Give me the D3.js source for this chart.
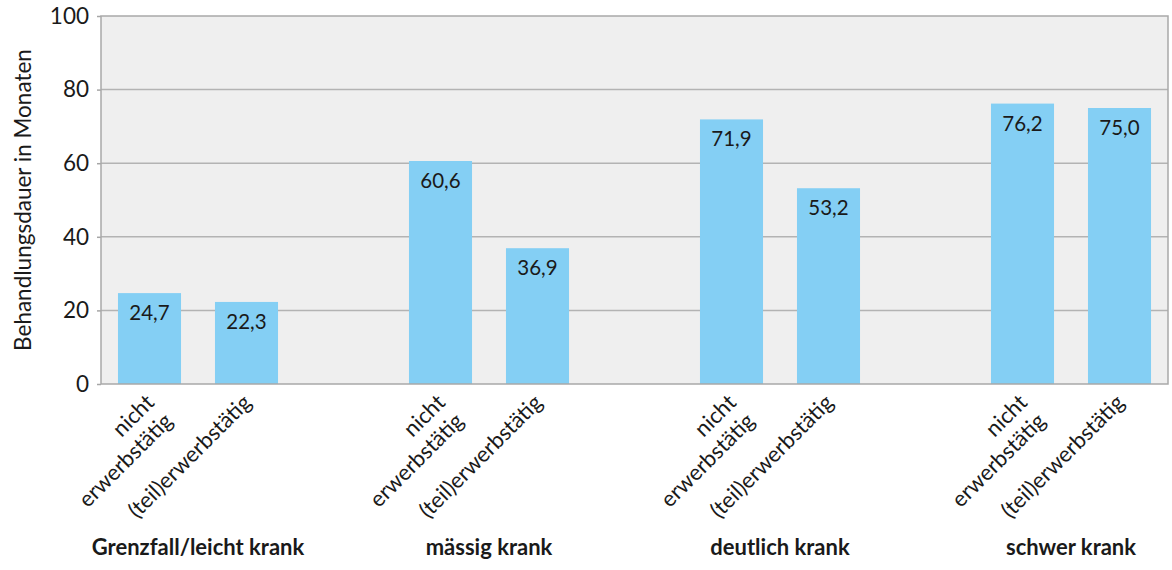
<!DOCTYPE html>
<html><head><meta charset="utf-8">
<script src="https://cdn.jsdelivr.net/npm/d3@7"></script>
<style>
html,body{margin:0;padding:0;background:#fff;}
svg text{font-family:Lato,"Noto Sans",sans-serif;fill:#1a1a1a;}
</style></head>
<body><svg id="c" width="1172" height="570"></svg>
<script>
const groups = ["Grenzfall/leicht krank", "mässig krank", "deutlich krank", "schwer krank"];
const seriesNames = ["nicht erwerbstätig", "(teil)erwerbstätig"];
const seriesLabelLines = [["nicht", "erwerbstätig"], ["(teil)erwerbstätig"]];
const nichtErwerbstaetig = [24.7, 60.6, 71.9, 76.2];
const teilErwerbstaetig = [22.3, 36.9, 53.2, 75.0];
const yTicks = [0, 20, 40, 60, 80, 100];
const yTitle = "Behandlungsdauer in Monaten";

const values = [nichtErwerbstaetig, teilErwerbstaetig];
const data = [];
groups.forEach((g, gi) => seriesNames.forEach((s, si) => data.push({g, s, si, v: values[si][gi]})));

const svg = d3.select("#c");
const L = 101, R = 1168, T = 16, B = 384;

const x0 = d3.scaleBand().domain(groups).range([L, R]).paddingInner(1/3).paddingOuter(0);
const x1 = d3.scaleBand().domain(seriesNames).range([0, x0.bandwidth()]).paddingInner(0.35).paddingOuter(0.175);
const y = d3.scaleLinear().domain([0, 100]).range([B, T]);

// plot background
svg.append("rect").attr("x", L).attr("y", T).attr("width", R - L).attr("height", B - T)
  .attr("fill", "#efefef");

// gridlines
svg.append("g").selectAll("line").data(yTicks.filter(t => t > 0 && t < 100)).join("line")
  .attr("x1", L).attr("x2", R).attr("y1", d => y(d)).attr("y2", d => y(d))
  .attr("stroke", "#b3b3b3").attr("stroke-width", 1.5);

// y axis
const yAxis = svg.append("g").attr("transform", `translate(${L},0)`)
  .call(d3.axisLeft(y).tickValues(yTicks).tickSize(4).tickPadding(8).tickFormat(d3.format("d")));
yAxis.select(".domain").remove();
yAxis.selectAll(".tick line").attr("stroke", "#a6a6a6").attr("stroke-width", 1.5);
yAxis.selectAll(".tick text").attr("font-size", 22.5).attr("fill", "#1a1a1a")
  .style("font-family", "Lato, sans-serif");

// bars
svg.append("g").selectAll("rect").data(data).join("rect")
  .attr("x", d => x0(d.g) + x1(d.s)).attr("width", x1.bandwidth())
  .attr("y", d => y(d.v)).attr("height", d => y(0) - y(d.v))
  .attr("fill", "#84cff4");

// value labels
const fmt = v => v.toFixed(1).replace(".", ",");
svg.append("g").selectAll("text").data(data).join("text")
  .attr("x", d => x0(d.g) + x1(d.s) + x1.bandwidth() / 2)
  .attr("y", d => y(d.v) + 27)
  .attr("text-anchor", "middle").attr("font-size", 20.5)
  .text(d => fmt(d.v));

// plot border
svg.append("rect").attr("x", L).attr("y", T).attr("width", R - L).attr("height", B - T)
  .attr("fill", "none").attr("stroke", "#a9a9a9").attr("stroke-width", 1.5);

// y title
svg.append("text").attr("transform", `translate(31,${(T + B) / 2}) rotate(-90)`)
  .attr("text-anchor", "middle").attr("font-size", 22.5).text(yTitle);

// category labels rotated
const cat = svg.append("g").selectAll("text").data(data).join("text")
  .attr("transform", d => `translate(${x0(d.g) + x1(d.s) + x1.bandwidth() / 2 + 6},404) rotate(-45)`)
  .attr("text-anchor", "end").attr("font-size", 22);
cat.each(function(d) {
  const t = d3.select(this);
  seriesLabelLines[d.si].forEach((line, i) => {
    t.append("tspan").attr("x", 0).attr("dy", i === 0 ? 0 : 26).text(line);
  });
});

// group labels
svg.append("g").selectAll("text").data(groups).join("text")
  .attr("x", d => x0(d) + x0.bandwidth() / 2).attr("y", 555)
  .attr("text-anchor", "middle").attr("font-size", 22).attr("font-weight", "bold")
  .text(d => d);
</script></body></html>
